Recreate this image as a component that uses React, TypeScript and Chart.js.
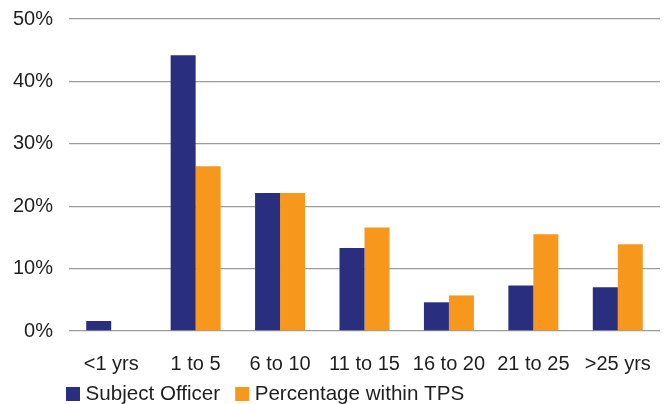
import React, { useEffect, useRef } from "react";
import { Chart, registerables } from "chart.js";

Chart.register(...registerables);

const categories = ["<1 yrs", "1 to 5", "6 to 10", "11 to 15", "16 to 20", "21 to 25", ">25 yrs"];
const subjectOfficer = [1.6, 44.2, 22.1, 13.3, 4.6, 7.3, 7.0];
const percentageWithinTps = [0, 26.4, 22.1, 16.6, 5.7, 15.5, 13.9];
const seriesLabels = ["Subject Officer", "Percentage within TPS"];
const seriesColors = ["#2a2e7f", "#f7981d"];

const FONT = "'Liberation Sans', Arial, sans-serif";
const TEXT = "#1f1f1f";

// Legend drawn under the axis labels, squares followed by the dataset names
const bottomLegend = {
  id: "bottomLegend",
  afterDraw(chart: any) {
    const ctx = chart.ctx;
    ctx.save();
    ctx.font = `20.6px ${FONT}`;
    ctx.textBaseline = "middle";
    ctx.textAlign = "left";
    let x = 66;
    const y = 387;
    chart.data.datasets.forEach((ds: any) => {
      ctx.fillStyle = ds.backgroundColor;
      ctx.fillRect(x, y, 14, 14);
      ctx.fillStyle = TEXT;
      ctx.fillText(ds.label, x + 19.5, y + 7.5);
      x += 19.5 + ctx.measureText(ds.label).width + 15;
    });
    ctx.restore();
  },
};

export default function App() {
  const canvasRef = useRef<HTMLCanvasElement | null>(null);

  useEffect(() => {
    document.body.style.margin = "0";
    const canvas = canvasRef.current;
    if (!canvas) return;
    const chart = new Chart(canvas, {
      type: "bar",
      data: {
        labels: categories,
        datasets: [
          { label: seriesLabels[0], data: subjectOfficer, backgroundColor: seriesColors[0] },
          { label: seriesLabels[1], data: percentageWithinTps, backgroundColor: seriesColors[1] },
        ],
      },
      options: {
        animation: false,
        responsive: false,
        devicePixelRatio: 1,
        layout: { padding: { left: 0, top: 19, right: 8, bottom: 23 } },
        datasets: {
          bar: { barPercentage: 1, categoryPercentage: 0.592 },
        },
        plugins: {
          legend: { display: false },
          tooltip: { enabled: false },
        },
        scales: {
          x: {
            grid: { display: false },
            border: { display: false },
            ticks: {
              color: TEXT,
              font: { family: FONT, size: 20 },
              padding: 13,
              maxRotation: 0,
              autoSkip: false,
            },
            afterFit(scale: any) {
              scale.height = 50;
            },
          },
          y: {
            min: 0,
            max: 50,
            grid: { color: "#9c9c9c", lineWidth: 1.3, drawTicks: false },
            border: { display: false },
            ticks: {
              stepSize: 10,
              color: TEXT,
              font: { family: FONT, size: 20 },
              padding: 16,
              callback: (v: any) => `${v}%`,
            },
            afterFit(scale: any) {
              scale.width = 69;
              scale.paddingTop = 0;
              scale.paddingBottom = 0;
            },
          },
        },
      },
      plugins: [bottomLegend],
    });
    return () => chart.destroy();
  }, []);

  return <canvas ref={canvasRef} width={668} height={404} style={{ display: "block" }} />;
}
